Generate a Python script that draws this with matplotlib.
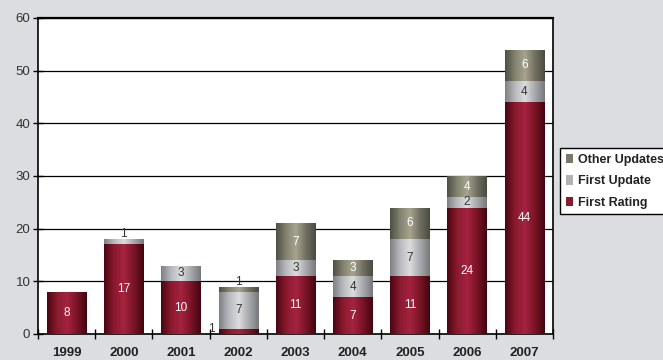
import numpy as np
import matplotlib
matplotlib.use('Agg')
import matplotlib.pyplot as plt
from matplotlib.colors import LinearSegmentedColormap
from matplotlib.patches import Patch

plt.rcParams['font.family'] = ['Liberation Sans', 'DejaVu Sans']

years = ['1999', '2000', '2001', '2002', '2003', '2004', '2005', '2006', '2007']
first_rating = [8, 17, 10, 1, 11, 7, 11, 24, 44]
first_update = [0, 1, 3, 7, 3, 4, 7, 2, 4]
other_updates = [0, 0, 0, 1, 7, 3, 6, 4, 6]

# 圆柱效果：两侧深，中间亮
series = [
    ('First Rating', first_rating, ['#4a0612', '#8a1a2e', '#a52340', '#7a1426', '#42050f'], 'white'),
    ('First Update', first_update, ['#7e7f84', '#b8b9bd', '#dcdcde', '#a8a9ad', '#76777c'], '#333333'),
    ('Other Updates', other_updates, ['#4e4e44', '#828270', '#a6a48e', '#727062', '#4a4a40'], 'white'),
]

fig = plt.figure(figsize=(6.63, 3.6), dpi=100)
fig.patch.set_facecolor('#dcdde0')
ax = fig.add_axes([38 / 663, 26 / 360, 515 / 663, 316 / 360])
ax.set_facecolor('white')

x = np.arange(len(years))
width = 0.69
grad = np.linspace(0, 1, 256).reshape(1, -1)
bottom = np.zeros(len(years))

for name, vals, cols, tcolor in series:
    cmap = LinearSegmentedColormap.from_list(name, cols)
    bars = ax.bar(x, vals, width, bottom=bottom, color=cols[2], zorder=3, linewidth=0)
    for i, (b, v) in enumerate(zip(bars, vals)):
        if v <= 0:
            continue
        x0, y0 = b.get_x(), b.get_y()
        im = ax.imshow(grad, cmap=cmap, aspect='auto', zorder=3,
                       extent=[x0, x0 + b.get_width(), y0, y0 + b.get_height()])
        im.set_clip_path(b)
        b.set_alpha(0)
        if v == 1 and name == 'First Rating':
            ax.text(x0 - 0.12, y0 + 0.9, str(v), ha='center', va='center',
                    fontsize=8.5, color='#333333', zorder=5)
        elif v == 1:
            ax.text(i, y0 + v + 0.9, str(v), ha='center', va='center',
                    fontsize=8.5, color='#333333', zorder=5)
        else:
            ax.text(i, y0 + v / 2, str(v), ha='center', va='center',
                    fontsize=8.5, color=tcolor, zorder=5)
    bottom = bottom + np.array(vals)

ax.set_xlim(-0.5, len(years) - 0.5)
ax.set_ylim(0, 60)
ax.set_yticks(np.arange(0, 61, 10))
ax.set_yticklabels([str(v) for v in range(0, 61, 10)], fontsize=9.5, color='#333333')
ax.yaxis.grid(True, color='black', linewidth=0.9, zorder=1)
ax.set_axisbelow(True)

# 年份标签放在类目中心，刻度放在类目边界
ax.set_xticks(np.arange(len(years) + 1) - 0.5)
ax.set_xticklabels([''] * (len(years) + 1))
ax.set_xticks(x, minor=True)
ax.set_xticklabels(years, minor=True, fontsize=9.5, fontweight='bold', color='#222222')
ax.tick_params(axis='x', which='minor', length=0, pad=9)
ax.tick_params(axis='x', which='major', direction='inout', length=7, width=1)
ax.tick_params(axis='y', direction='inout', length=7, width=1, pad=2)

for s in ax.spines.values():
    s.set_color('black')
    s.set_linewidth(1.2)
ax.spines['top'].set_linewidth(1.6)

handles = [Patch(facecolor='#7a7868', edgecolor='none', label='Other Updates'),
           Patch(facecolor='#b0b1b5', edgecolor='none', label='First Update'),
           Patch(facecolor='#8a1a2e', edgecolor='none', label='First Rating')]
leg = fig.legend(handles=handles, loc='upper left', bbox_to_anchor=(560 / 663, 1 - 148 / 360),
                 fancybox=False, framealpha=1, edgecolor='black', borderpad=0.45,
                 borderaxespad=0, handlelength=0.6, handleheight=0.8, handletextpad=0.35,
                 labelspacing=0.75, prop={'size': 9, 'weight': 'bold'})
leg.get_frame().set_linewidth(1.0)
for t in leg.get_texts():
    t.set_color('#222222')

fig.savefig('out.png', dpi=100, facecolor=fig.get_facecolor())
